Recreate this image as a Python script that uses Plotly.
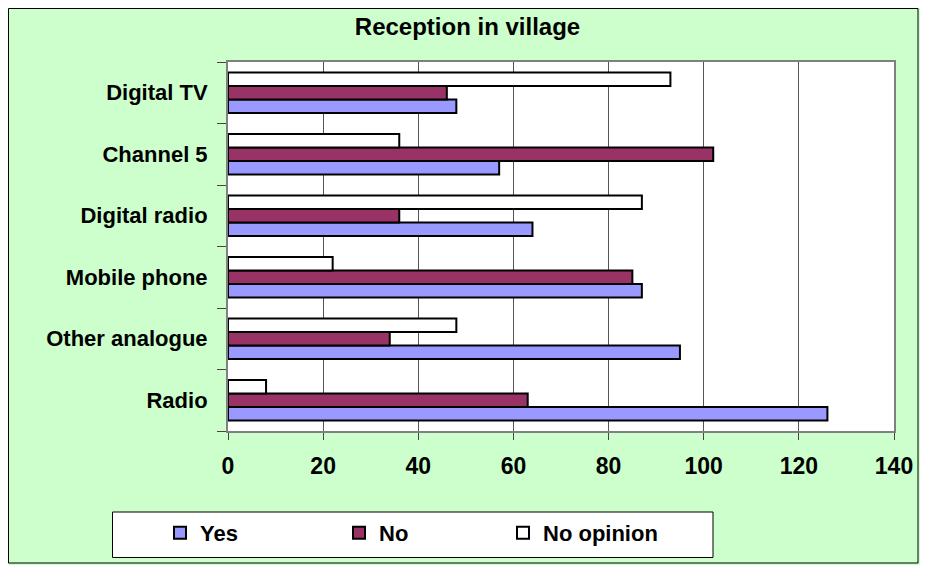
import plotly.graph_objects as go

categories = ["Radio", "Other analogue", "Mobile phone", "Digital radio", "Channel 5", "Digital TV"]
yes_vals = [126, 95, 87, 64, 57, 48]
no_vals = [63, 34, 85, 36, 102, 46]
noop_vals = [8, 48, 22, 87, 36, 93]
x_ticks = [0, 20, 40, 60, 80, 100, 120, 140]

W, H = 928, 565
OFF = 8  # page body margin in the browser
PL, PR, PT, PB = 228 - OFF, 894 - OFF, 62 - OFF, 431 - OFF


def px_x(p):
    return (p - OFF - PL) / (PR - PL)


def px_y(p):
    return (PB - (p - OFF)) / (PB - PT)


FONT = "Liberation Sans, Arial, sans-serif"

fig = go.Figure()
series = [
    ("Yes", yes_vals, "#9999FF", 134),
    ("No", no_vals, "#993366", 119),
    ("No opinion", noop_vals, "#FFFFFF", 150),
]
for name, vals, col, lw in series:
    fig.add_trace(go.Bar(
        name=name, y=categories, x=vals, orientation="h",
        marker=dict(color=col, line=dict(color="#000000", width=2)),
        legendwidth=lw,
    ))

fig.update_layout(
    width=W, height=H,
    paper_bgcolor="#CCFFCC", plot_bgcolor="#FFFFFF",
    margin=dict(l=PL, r=W - PR, t=PT, b=H - PB, autoexpand=False),
    barmode="group", bargap=0.34, bargroupgap=0,
    title=dict(text="<b>Reception in village</b>", x=(467.5 - OFF) / W, xanchor="center",
               y=(H - (27 - OFF)) / H, yanchor="middle", xref="container", yref="container",
               font=dict(family=FONT, size=24, color="#000000")),
    font=dict(family=FONT, color="#000000"),
    showlegend=True,
    legend=dict(orientation="h", x=px_x(160), xanchor="left", y=px_y(512), yanchor="top",
                bgcolor="rgba(0,0,0,0)", borderwidth=0, traceorder="normal",
                font=dict(family=FONT, size=22, color="#000000", weight="bold"),
                itemclick=False),
    xaxis=dict(range=[0, 140], tickvals=x_ticks, ticktext=[str(v) for v in x_ticks],
               showgrid=True, gridcolor="#555555", gridwidth=1,
               showline=True, linecolor="#808080", linewidth=2, mirror=True,
               ticks="outside", ticklen=7, tickcolor="#444444", tickwidth=1,
               ticklabelstandoff=6, zeroline=False,
               tickfont=dict(family=FONT, size=23, color="#000000", weight="bold")),
    yaxis=dict(categoryorder="array", categoryarray=categories,
               showgrid=False, showline=True, linecolor="#808080", linewidth=2, mirror=True,
               ticks="outside", ticklen=9, tickcolor="#444444", tickwidth=1,
               tickson="boundaries", ticklabelstandoff=14,
               tickfont=dict(family=FONT, size=22, color="#000000", weight="bold")),
    shapes=[
        dict(type="rect", xref="paper", yref="paper",
             x0=px_x(8.5), x1=px_x(918), y0=px_y(563), y1=px_y(8.5),
             line=dict(color="#000000", width=1), fillcolor="rgba(0,0,0,0)", layer="below"),
        dict(type="rect", xref="paper", yref="paper",
             x0=px_x(112.5), x1=px_x(713), y0=px_y(557.5), y1=px_y(512),
             line=dict(color="#000000", width=1), fillcolor="#FFFFFF", layer="above"),
    ],
)

fig.write_html("out.html")
